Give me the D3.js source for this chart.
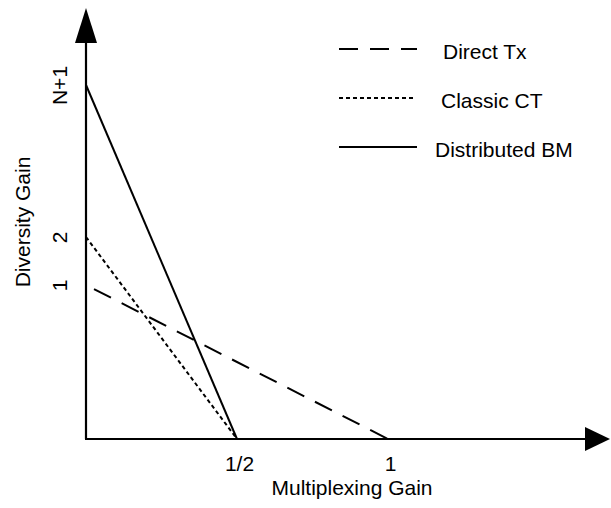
<!DOCTYPE html>
<html>
<head>
<meta charset="utf-8">
<script src="https://cdn.jsdelivr.net/npm/d3@7"></script>
<style>
  body { margin: 0; background: #fff; }
  text { font-family: "Liberation Sans", Arial, sans-serif; font-size: 21px; fill: #000; }
</style>
</head>
<body>
<script>
// diversity-multiplexing tradeoff, schematic
var NPLUS1 = 4; // value used for the "N+1" point on the vertical axis

var seriesNames = ["Direct Tx", "Classic CT", "Distributed BM"];
var maxDiversity = [1, 2, NPLUS1];     // diversity gain at multiplexing gain 0
var maxMultiplexing = [1, 0.5, 0.5];   // multiplexing gain at diversity gain 0

var xTickValues = [0.5, 1];
var xTickLabels = ["1/2", "1"];
var yTickValues = [1, 2, NPLUS1];
var yTickLabels = ["1", "2", "N+1"];

var width = 611, height = 508;

// line styles per series
var dashStyles = ["19,12", "4,3", null];
var dashOffsets = [22, 0, 0];

var svg = d3.select("body").append("svg")
  .attr("width", width)
  .attr("height", height);

var x = d3.scaleLinear().domain([0, 1]).range([86, 388]);
// vertical axis is not to scale in the figure, so piecewise
var y = d3.scaleLinear().domain([0, 1, 2, NPLUS1]).range([439, 285, 237, 85]);

// axis lines + arrow heads
svg.append("line")
  .attr("x1", x(0)).attr("y1", y(0))
  .attr("x2", x(0)).attr("y2", 42)
  .attr("stroke", "#000").attr("stroke-width", 2.2);
svg.append("path")
  .attr("d", "M" + x(0) + ",8 L" + (x(0) - 11) + ",43 L" + (x(0) + 11) + ",43 Z")
  .attr("fill", "#000");

svg.append("line")
  .attr("x1", x(0) - 1).attr("y1", y(0))
  .attr("x2", 586).attr("y2", y(0))
  .attr("stroke", "#000").attr("stroke-width", 2.2);
svg.append("path")
  .attr("d", "M610," + y(0) + " L585," + (y(0) - 12) + " L585," + (y(0) + 12) + " Z")
  .attr("fill", "#000");

// x ticks
var xAxis = svg.append("g")
  .attr("transform", "translate(0," + y(0) + ")")
  .call(d3.axisBottom(x)
    .tickValues(xTickValues)
    .tickSize(0)
    .tickPadding(0)
    .tickFormat(function(d, i) { return xTickLabels[i]; }));
xAxis.select(".domain").remove();
xAxis.selectAll("text")
  .attr("y", 32)
  .attr("dy", 0)
  .attr("font-family", null)
  .attr("font-size", null)
  .attr("fill", null)
  .attr("x", 2);

// y ticks, rotated
var yAxis = svg.append("g")
  .attr("transform", "translate(" + x(0) + ",0)")
  .call(d3.axisLeft(y)
    .tickValues(yTickValues)
    .tickSize(0)
    .tickFormat(function(d, i) { return yTickLabels[i]; }));
yAxis.select(".domain").remove();
yAxis.selectAll("text")
  .attr("transform", "rotate(-90)")
  .attr("x", 0)
  .attr("y", -19)
  .attr("dy", 0)
  .attr("text-anchor", "middle")
  .attr("font-family", null)
  .attr("font-size", null)
  .attr("fill", null);

// axis titles
svg.append("text")
  .attr("x", 352).attr("y", 495)
  .attr("text-anchor", "middle")
  .text("Multiplexing Gain");

svg.append("text")
  .attr("transform", "translate(30,222) rotate(-90)")
  .attr("text-anchor", "middle")
  .text("Diversity Gain");

// tradeoff lines
var line = d3.line()
  .x(function(d) { return x(d[0]); })
  .y(function(d) { return y(d[1]); });

seriesNames.forEach(function(name, i) {
  svg.append("path")
    .datum([[0, maxDiversity[i]], [maxMultiplexing[i], 0]])
    .attr("d", line)
    .attr("fill", "none")
    .attr("stroke", "#000")
    .attr("stroke-width", 2)
    .attr("stroke-dasharray", dashStyles[i])
    .attr("stroke-dashoffset", dashOffsets[i]);
});

// legend
var legendY = [49, 98, 147];
var legendLineEnd = [417, 413, 417];
var legendTextX = [443, 441, 435];

seriesNames.forEach(function(name, i) {
  svg.append("line")
    .attr("x1", 339).attr("x2", legendLineEnd[i])
    .attr("y1", legendY[i]).attr("y2", legendY[i])
    .attr("stroke", "#000")
    .attr("stroke-width", 2)
    .attr("stroke-dasharray", dashStyles[i]);
  svg.append("text")
    .attr("x", legendTextX[i])
    .attr("y", legendY[i] + 10)
    .text(name);
});
</script>
</body>
</html>
